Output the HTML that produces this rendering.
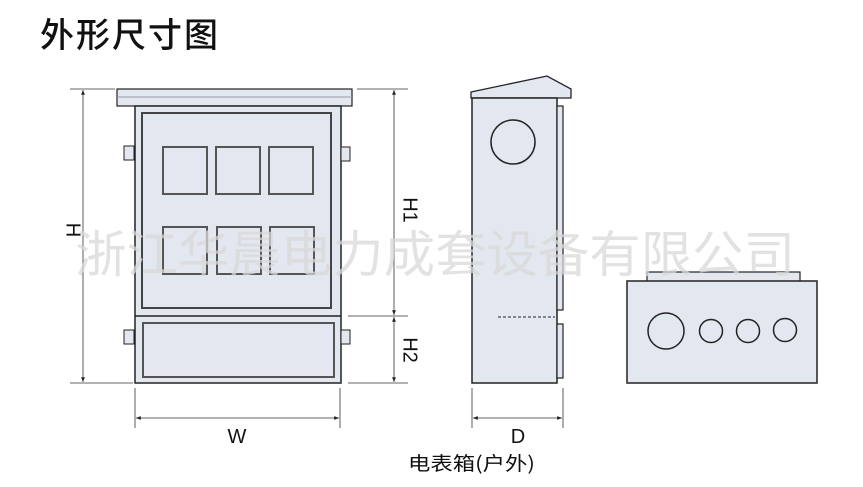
<!DOCTYPE html>
<html><head><meta charset="utf-8"><style>
html,body{margin:0;padding:0;background:#fff;width:863px;height:487px;overflow:hidden}
</style></head><body>
<svg width="863" height="487" viewBox="0 0 863 487" xmlns="http://www.w3.org/2000/svg" font-family="Liberation Sans, Noto Sans CJK SC, sans-serif">
<text x="40" y="47" font-size="34" font-family="Noto Sans CJK SC, sans-serif" font-weight="500" letter-spacing="2" fill="#111">外形尺寸图</text>
<defs>
<marker id="a" viewBox="0 0 10 10" refX="10" refY="5" markerWidth="8" markerHeight="6" orient="auto-start-reverse"><path d="M0,1 L10,5 L0,9z" fill="#222"/></marker>
</defs>
<g stroke="#222" fill="#e3e7ef">
<rect x="117" y="89" width="235" height="17" stroke-width="1.2"/>
<line x1="117" y1="97" x2="352" y2="97" stroke="#99a" stroke-width="1"/>
<rect x="135" y="106" width="206" height="277" stroke-width="1.5"/>
<rect x="142" y="113" width="189" height="195" stroke="#444" stroke-width="2"/>
<line x1="135" y1="316" x2="341" y2="316" stroke-width="1.5"/>
<rect x="143" y="323" width="191" height="54" stroke="#555" stroke-width="2"/>
<g stroke="#555" stroke-width="2" fill="#e3e7ef">
<rect x="163" y="147" width="44" height="47"/><rect x="216" y="147" width="44" height="47"/><rect x="269" y="147" width="44" height="47"/>
<rect x="163" y="227" width="44" height="47"/><rect x="217" y="227" width="44" height="47"/><rect x="270" y="227" width="44" height="47"/>
</g>
<g stroke-width="1">
<rect x="124" y="146" width="10" height="14"/><rect x="124" y="330" width="10" height="14"/>
<rect x="341" y="147" width="9" height="14"/><rect x="341" y="330" width="9" height="14"/>
</g>
<polygon points="471,92 547,76 571,89 571,98 471,98" stroke-width="1.3"/>
<rect x="472" y="98" width="85" height="285" stroke-width="1.5"/>
<rect x="557" y="106" width="6" height="204" stroke-width="1.2"/>
<rect x="557" y="324" width="6" height="54" stroke-width="1.2"/>
<circle cx="513" cy="142" r="22" stroke-width="1.5"/>
<line x1="498" y1="317" x2="555" y2="317" stroke-width="1" stroke-dasharray="3,2"/>
<rect x="647" y="272" width="153" height="10" stroke-width="1.2"/>
<rect x="627" y="281" width="190" height="102" stroke-width="1.5"/>
<circle cx="666" cy="331" r="18" stroke-width="1.5"/>
<circle cx="711" cy="331" r="11.5" stroke-width="1.5"/>
<circle cx="748" cy="331" r="11.5" stroke-width="1.5"/>
<circle cx="785" cy="330" r="11.5" stroke-width="1.5"/>
</g>
<g stroke="#333" stroke-width="0.8" fill="none">
<line x1="70" y1="89" x2="115" y2="89"/><line x1="70" y1="383" x2="133" y2="383"/>
<line x1="83" y1="90" x2="83" y2="382" marker-start="url(#a)" marker-end="url(#a)"/>
<line x1="357" y1="89" x2="408" y2="89"/><line x1="348" y1="316" x2="408" y2="316"/><line x1="348" y1="383" x2="408" y2="383"/>
<line x1="394" y1="90" x2="394" y2="315" marker-start="url(#a)" marker-end="url(#a)"/>
<line x1="394" y1="317" x2="394" y2="382" marker-start="url(#a)" marker-end="url(#a)"/>
<line x1="135" y1="388" x2="135" y2="428"/><line x1="340" y1="388" x2="340" y2="428"/>
<line x1="136" y1="418" x2="339" y2="418" marker-start="url(#a)" marker-end="url(#a)"/>
<line x1="472" y1="388" x2="472" y2="428"/><line x1="563" y1="388" x2="563" y2="428"/>
<line x1="473" y1="418" x2="562" y2="418" marker-start="url(#a)" marker-end="url(#a)"/>
</g>
<g fill="#111" font-size="20">
<text x="72" y="230" transform="rotate(90 72 230)" text-anchor="middle" dominant-baseline="middle">H</text>
<text x="409" y="210" transform="rotate(90 409 210)" text-anchor="middle" dominant-baseline="middle">H1</text>
<text x="409" y="350" transform="rotate(90 409 350)" text-anchor="middle" dominant-baseline="middle">H2</text>
<text x="237" y="443" text-anchor="middle">W</text>
<text x="518" y="443" text-anchor="middle">D</text>
<text x="408" y="470" font-size="19" font-family="Noto Sans CJK SC, sans-serif" textLength="127" lengthAdjust="spacingAndGlyphs">电表箱(户外)</text>
</g>
<text x="435" y="272" text-anchor="middle" font-size="50" fill="#d8d8d8" fill-opacity="0.75" font-family="Noto Sans CJK SC, sans-serif" textLength="720" lengthAdjust="spacingAndGlyphs">浙江华晨电力成套设备有限公司</text>
</svg>
</body></html>
